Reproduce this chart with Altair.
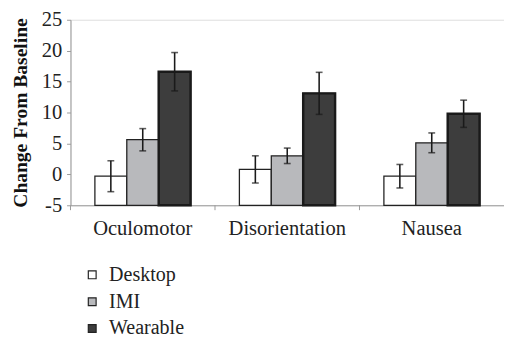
import altair as alt
import pandas as pd

categories = ["Oculomotor", "Disorientation", "Nausea"]
groups = ["Desktop", "IMI", "Wearable"]
values = {
    "Desktop": [-0.3, 0.8, -0.3],
    "IMI": [5.6, 3.0, 5.1],
    "Wearable": [16.6, 13.1, 9.8],
}
errors = {
    "Desktop": [2.5, 2.2, 1.9],
    "IMI": [1.8, 1.25, 1.6],
    "Wearable": [3.1, 3.4, 2.2],
}
colors = ["#ffffff", "#b8b9bc", "#3d3d3d"]
y_ticks = [-5, 0, 5, 10, 15, 20, 25]

rows = []
for g in groups:
    for i, c in enumerate(categories):
        v = values[g][i]
        e = errors[g][i]
        rows.append({"cat": c, "grp": g, "val": v, "base": -5,
                     "lo": v - e, "hi": v + e})
df = pd.DataFrame(rows)
cat_df = pd.DataFrame({"cat": categories})

FONT = "Liberation Serif"
W = 444
H = 190

xsc = alt.Scale(domain=categories, paddingInner=0, paddingOuter=0)
xoff = alt.XOffset("grp:N", sort=groups,
                   scale=alt.Scale(paddingInner=0, paddingOuter=0.765))
yscale = alt.Scale(domain=[-5, 25], nice=False)
xaxis = alt.Axis(title=None, labelAngle=0, ticks=False, labelPadding=13)
yaxis = alt.Axis(values=y_ticks, title="Change From Baseline",
                 labelExpr="datum.value")


def X():
    return alt.X("cat:N", sort=categories, scale=xsc, axis=xaxis)


def Y(f):
    return alt.Y(f, scale=yscale, axis=yaxis)


bars = alt.Chart(df).mark_bar(stroke="#222", strokeWidth=1.3).encode(
    x=X(),
    xOffset=xoff,
    y=Y("val:Q"),
    y2="base:Q",
    fill=alt.Fill("grp:N", sort=groups,
                  scale=alt.Scale(domain=groups, range=colors),
                  legend=alt.Legend(title=None, orient="none",
                                    legendX=12, legendY=251,
                                    direction="vertical",
                                    symbolType="square", symbolSize=64,
                                    symbolStrokeColor="#222",
                                    symbolStrokeWidth=1.2,
                                    rowPadding=6.5, labelOffset=7)),
)

wear = alt.Chart(df).transform_filter(alt.datum.grp == "Wearable").mark_bar(
    stroke="#1a1a1a", strokeWidth=2.5, fill="#3d3d3d").encode(
    x=X(), xOffset=xoff, y=Y("val:Q"), y2="base:Q")

rules = alt.Chart(df).mark_rule(color="#1a1a1a", strokeWidth=1.6).encode(
    x=X(), xOffset=xoff, y=Y("lo:Q"), y2="hi:Q")
cap_hi = alt.Chart(df).mark_tick(color="#1a1a1a", thickness=1.6, size=7,
                                 orient="horizontal").encode(
    x=X(), xOffset=xoff, y=Y("hi:Q"))
cap_lo = alt.Chart(df).mark_tick(color="#1a1a1a", thickness=1.6, size=7,
                                 orient="horizontal").encode(
    x=X(), xOffset=xoff, y=Y("lo:Q"))

bticks = alt.Chart(cat_df).mark_rule(color="#999", strokeWidth=1).encode(
    x=alt.X("cat:N", sort=categories, scale=xsc, axis=xaxis, bandPosition=0),
    y=alt.value(H), y2=alt.value(H + 5))

chart = alt.layer(bars, wear, rules, cap_hi, cap_lo, bticks).properties(
    width=W, height=H,
    padding={"left": 3, "top": -3, "right": 0, "bottom": 0},
).configure_view(stroke=None).configure(
    background="white", font=FONT
).configure_axis(
    labelFont=FONT, labelFontSize=21, labelColor="#222",
    titleFont=FONT, titleColor="#111", grid=False,
    domainColor="#999", tickColor="#999", labelOverlap=False,
).configure_axisY(
    tickSize=4, labelPadding=5, titlePadding=11, titleFontSize=20,
    titleFontWeight="bold",
).configure_axisX(
    labelFontSize=21,
).configure_legend(
    labelFont=FONT, labelFontSize=20.5, labelColor="#222",
)

chart.save("out.html", embed_options={"renderer": "svg", "actions": False})
